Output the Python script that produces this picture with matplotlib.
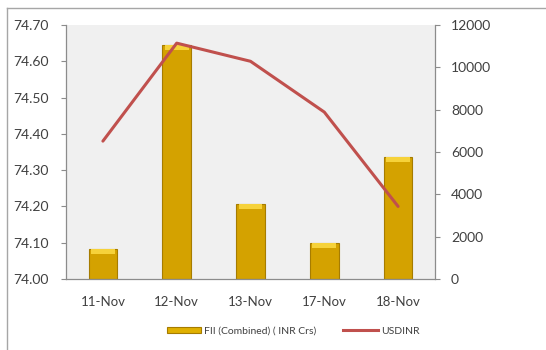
import matplotlib
matplotlib.use("Agg")
import matplotlib.pyplot as plt
import numpy as np
from matplotlib.lines import Line2D
from matplotlib.patches import Patch

dates = ['11-Nov', '12-Nov', '13-Nov', '17-Nov', '18-Nov']
fii = [1420, 11050, 3560, 1700, 5780]
usdinr = [74.38, 74.65, 74.60, 74.46, 74.20]
left_ticks = [74.00, 74.10, 74.20, 74.30, 74.40, 74.50, 74.60, 74.70]
right_ticks = [0, 2000, 4000, 6000, 8000, 10000, 12000]

plt.rcParams['font.family'] = ['Lato', 'DejaVu Sans']
txt = '#404040'
spine_c = '#8C8C8C'

W, H = 546, 350
fig = plt.figure(figsize=(W / 100, H / 100), dpi=100)
fig.patch.set_facecolor('white')

rect = [66 / W, (H - 279) / H, (435 - 66) / W, (279 - 25) / H]
ax_line = fig.add_axes(rect)
ax_bar = ax_line.twinx()

# bars on ax_bar (right axis), drawn below the line axis
ax_line.set_zorder(2)
ax_line.patch.set_visible(False)
ax_bar.set_zorder(1)
ax_bar.patch.set_visible(True)
ax_bar.patch.set_facecolor('#F0F0F0')

x = np.arange(len(dates))
w = 0.39
fii_arr = np.array(fii, dtype=float)
ax_bar.bar(x, fii_arr, width=w, color='#D4A200', edgecolor='#A67C00', linewidth=0.8, zorder=2)
cap = 230.0
ax_bar.bar(x, np.full(len(x), cap), bottom=fii_arr - cap, width=w * 0.82,
           color='#F6D23A', edgecolor='none', zorder=3)
ax_bar.set_ylim(0, 12000)
ax_bar.set_yticks(right_ticks)
ax_bar.set_yticklabels([str(t) for t in right_ticks])

ax_line.plot(x, usdinr, color='#C0504D', linewidth=2.2, solid_capstyle='round', zorder=5)
ax_line.set_ylim(74.0, 74.7)
ax_line.set_yticks(left_ticks)
ax_line.set_yticklabels([f'{t:.2f}' for t in left_ticks])
ax_line.set_xlim(-0.5, len(dates) - 0.5)
ax_line.set_xticks(x)
ax_line.set_xticklabels(dates)

for a in (ax_line, ax_bar):
    a.spines['top'].set_visible(False)
    for s in ('left', 'right', 'bottom'):
        a.spines[s].set_color(spine_c)
        a.spines[s].set_linewidth(0.9)
ax_line.spines['right'].set_visible(False)
ax_bar.spines['left'].set_visible(False)
ax_bar.spines['bottom'].set_visible(False)

ax_line.tick_params(axis='y', direction='out', length=3.5, width=0.8, color=spine_c,
                    labelsize=10, labelcolor=txt, pad=9)
ax_line.tick_params(axis='x', length=0, labelsize=9.5, labelcolor=txt, pad=12)
ax_bar.tick_params(axis='y', direction='out', length=3.5, width=0.8, color=spine_c,
                   labelsize=10, labelcolor=txt, pad=8)

handles = [Patch(facecolor='#E0B000', edgecolor='#A67C00', linewidth=0.8),
           Line2D([], [], color='#C0504D', linewidth=2.2)]
leg = fig.legend(handles, ['FII (Combined) ( INR Crs)', 'USDINR'],
                 loc='center', bbox_to_anchor=(293 / W, 1 - 331 / H), ncol=2,
                 frameon=False, fontsize=7.5, labelcolor=txt,
                 handlelength=3.3, handleheight=0.5, handletextpad=0.3,
                 columnspacing=2.6)

# outer chart frame
fig.add_artist(Line2D([6.5 / W, 6.5 / W], [0, 1 - 8 / H], color='#A6A6A6', linewidth=1.0))
fig.add_artist(Line2D([6.5 / W, 1.0], [1 - 8 / H, 1 - 8 / H], color='#A6A6A6', linewidth=1.0))

fig.savefig('out.png', dpi=100)
